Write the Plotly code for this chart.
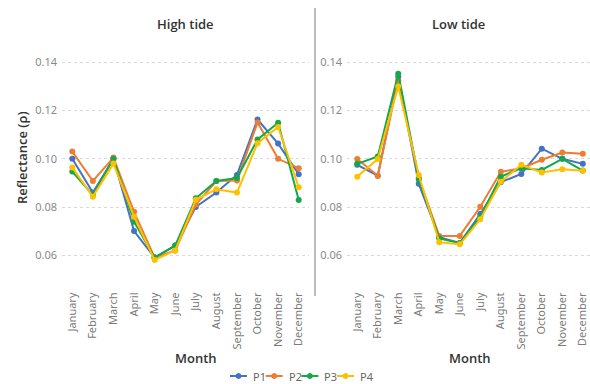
import plotly.graph_objects as go

months = ["January", "February", "March", "April", "May", "June", "July",
          "August", "September", "October", "November", "December"]
series_names = ["P1", "P2", "P3", "P4"]
colors = ["#4472C4", "#ED7D31", "#14A84A", "#FFC000"]

# Reflectance by month, high tide
high_p1 = [0.100, 0.086, 0.100, 0.070, 0.059, 0.064, 0.080, 0.086, 0.0933, 0.1163, 0.1063, 0.0936]
high_p2 = [0.103, 0.0908, 0.1005, 0.078, 0.059, 0.062, 0.081, 0.0908, 0.091, 0.1151, 0.100, 0.0961]
high_p3 = [0.0947, 0.085, 0.100, 0.0739, 0.059, 0.064, 0.0836, 0.0908, 0.092, 0.108, 0.115, 0.0829]
high_p4 = [0.0964, 0.0843, 0.098, 0.076, 0.058, 0.062, 0.083, 0.0874, 0.086, 0.1065, 0.1132, 0.0882]

# Reflectance by month, low tide
low_p1 = [0.0975, 0.093, 0.134, 0.0896, 0.0675, 0.0651, 0.0771, 0.0903, 0.0937, 0.1042, 0.100, 0.0979]
low_p2 = [0.0999, 0.093, 0.1326, 0.092, 0.068, 0.068, 0.0801, 0.0946, 0.096, 0.0996, 0.1026, 0.1021]
low_p3 = [0.0979, 0.101, 0.1353, 0.0915, 0.067, 0.065, 0.076, 0.0926, 0.0961, 0.0954, 0.100, 0.0951]
low_p4 = [0.0926, 0.0999, 0.130, 0.0933, 0.0654, 0.0645, 0.0749, 0.0905, 0.0975, 0.0943, 0.0957, 0.095]

y_ticks = [0.06, 0.08, 0.10, 0.12, 0.14]
y_tick_text = ["0.06", "0.08", "0.10", "0.12", "0.14"]

W, H = 590, 384
FONT = "Noto Sans"
TITLE_FONT = "Open Sans"

high = [high_p1, high_p2, high_p3, high_p4]
low = [low_p1, low_p2, low_p3, low_p4]

fig = go.Figure()
for i, name in enumerate(series_names):
    fig.add_trace(go.Scatter(
        x=months, y=high[i], name=name, mode="lines+markers",
        line=dict(color=colors[i], width=2), marker=dict(size=6, color=colors[i]),
        xaxis="x", yaxis="y", showlegend=False))
for i, name in enumerate(series_names):
    fig.add_trace(go.Scatter(
        x=months, y=low[i], name=name, mode="lines+markers",
        line=dict(color=colors[i], width=2), marker=dict(size=6, color=colors[i]),
        xaxis="x2", yaxis="y2", showlegend=False))


def px_x(p):
    return p / W


def px_y(p):
    return 1 - p / H


y_dom = [px_y(279.3), px_y(38.3)]
xaxis_common = dict(
    type="category", categoryorder="array", categoryarray=months,
    tickangle=-90, tickfont=dict(family=FONT, size=11, color="#7a7a7a"),
    showgrid=False, zeroline=False, showline=False, ticks="", ticklabelstandoff=10,
    automargin=False,
)
yaxis_common = dict(
    range=[0.05, 0.15], tickvals=y_ticks, ticktext=y_tick_text,
    tickfont=dict(family=FONT, size=11, color="#8a8a8a"),
    showgrid=True, gridcolor="#d9d9d9", griddash="dot", gridwidth=1,
    zeroline=False, showline=False, ticks="", ticklabelstandoff=4,
    automargin=False,
)


def label(text, x, y, size=13, color="#333333", angle=0, xanchor="center",
          weight=600, family=TITLE_FONT):
    return dict(text=text, x=px_x(x), y=px_y(y), xref="paper", yref="paper",
                xanchor=xanchor, yanchor="middle", textangle=angle, showarrow=False,
                font=dict(family=family, size=size, color=color, weight=weight))


# Panel divider
shapes = [dict(type="line", xref="paper", yref="paper",
               x0=px_x(315), x1=px_x(315), y0=px_y(8), y1=px_y(296),
               line=dict(color="#bdbdbd", width=2))]
annotations = [
    label("High tide", 185, 24),
    label("Low tide", 458, 24),
    label("Month", 196, 358),
    label("Month", 470, 358),
    label("Reflectance (ρ)", 22, 158, angle=-90),
]

# Compact legend row: short line with a dot, then the series name
legend_x0, legend_y, legend_step = 230, 376, 35.7
for i, name in enumerate(series_names):
    x0 = legend_x0 + legend_step * i
    shapes.append(dict(type="line", xref="paper", yref="paper",
                       x0=px_x(x0), x1=px_x(x0 + 17), y0=px_y(legend_y), y1=px_y(legend_y),
                       line=dict(color=colors[i], width=2)))
    shapes.append(dict(type="circle", xref="paper", yref="paper",
                       x0=px_x(x0 + 6), x1=px_x(x0 + 11),
                       y0=px_y(legend_y + 2.5), y1=px_y(legend_y - 2.5),
                       fillcolor=colors[i], line=dict(color=colors[i], width=1)))
    annotations.append(label(name, x0 + 21, legend_y, size=11, color="#666666",
                             xanchor="left", weight=400, family=FONT))

fig.update_layout(
    width=W, height=H,
    margin=dict(l=0, r=0, t=0, b=0, autoexpand=False),
    paper_bgcolor="white", plot_bgcolor="white",
    font=dict(family=FONT, color="#333333"),
    xaxis=dict(domain=[px_x(62), px_x(309)], range=[-0.5, 11.5], **xaxis_common),
    xaxis2=dict(domain=[px_x(347), 1.0], range=[-0.5, 11.35], **xaxis_common),
    yaxis=dict(domain=y_dom, anchor="x", **yaxis_common),
    yaxis2=dict(domain=y_dom, anchor="x2", **yaxis_common),
    showlegend=False,
    shapes=shapes,
    annotations=annotations,
)

fig.write_html("out.html")
